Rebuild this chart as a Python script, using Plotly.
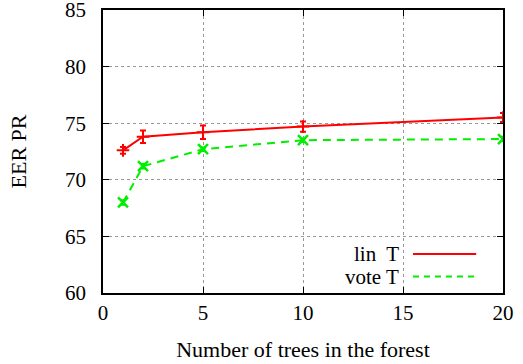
import plotly.graph_objects as go

trees = [1, 2, 5, 10, 20]
lin_T = [72.6, 73.8, 74.2, 74.7, 75.5]
lin_T_err = [0.3, 0.55, 0.6, 0.45, 0.4]
vote_T = [68.0, 71.2, 72.7, 73.5, 73.6]
vote_T_err = [0.2, 0.2, 0.15, 0.15, 0.2]
x_ticks = [0, 5, 10, 15, 20]
y_ticks = [60, 65, 70, 75, 80, 85]

FONT = "Liberation Serif"
fig = go.Figure()
fig.add_trace(go.Scatter(
    x=trees, y=lin_T, mode="lines+markers", name="lin  T",
    line=dict(color="#ff0000", width=2),
    marker=dict(symbol="cross-thin", size=9, line=dict(color="#ff0000", width=2)),
    error_y=dict(type="data", array=lin_T_err, color="#ff0000", thickness=2, width=3),
    showlegend=False,
))
fig.add_trace(go.Scatter(
    x=trees, y=vote_T, mode="lines+markers", name="vote T",
    line=dict(color="#00ee00", width=2, dash="8px,6px"),
    marker=dict(symbol="x-thin", size=10, line=dict(color="#00ee00", width=2.5)),
    error_y=dict(type="data", array=vote_T_err, color="#00ee00", thickness=2, width=3),
    showlegend=False,
))

# legend (gnuplot style: text right-aligned, sample to the right)
legend_items = [("lin  T", "#ff0000", "solid", 0.138), ("vote T", "#00ee00", "6px,5px", 0.058)]
for label, col, dash, yp in legend_items:
    fig.add_annotation(xref="paper", yref="paper", x=0.745, y=yp, text=label,
                       showarrow=False, xanchor="right", yanchor="middle",
                       font=dict(family=FONT, size=21, color="black"))
    fig.add_shape(type="line", xref="paper", yref="paper", x0=0.775, x1=0.933,
                  y0=yp, y1=yp, line=dict(color=col, width=2, dash=dash))
fig.add_shape(type="rect", xref="paper", yref="paper", x0=0.515, x1=0.997,
              y0=0.004, y1=0.198, fillcolor="white", line=dict(width=0), layer="below")

axis_common = dict(
    showline=True, linecolor="black", linewidth=1.5, mirror="ticks",
    ticks="inside", ticklen=6, tickcolor="black",
    showgrid=True, gridcolor="#999999", griddash="dot", gridwidth=1,
    zeroline=False, tickfont=dict(family=FONT, size=21, color="black"),
    automargin=False, ticklabeloverflow="allow",
)
fig.update_xaxes(range=[0, 20], tickvals=x_ticks, ticklabelstandoff=0, **axis_common,
                 title=dict(text="Number of trees in the forest",
                            font=dict(family=FONT, size=22, color="black"), standoff=18))
fig.update_yaxes(range=[60, 85], tickvals=y_ticks, ticklabelstandoff=11, **axis_common,
                 title=dict(text="EER PR", font=dict(family=FONT, size=22, color="black"),
                            standoff=32))
fig.update_layout(
    width=523, height=364,
    margin=dict(l=103, r=20, t=10, b=71),
    plot_bgcolor="white", paper_bgcolor="white",
)
fig.write_html("out.html", config={"displayModeBar": False},
               post_script="document.body.style.margin='0';")
